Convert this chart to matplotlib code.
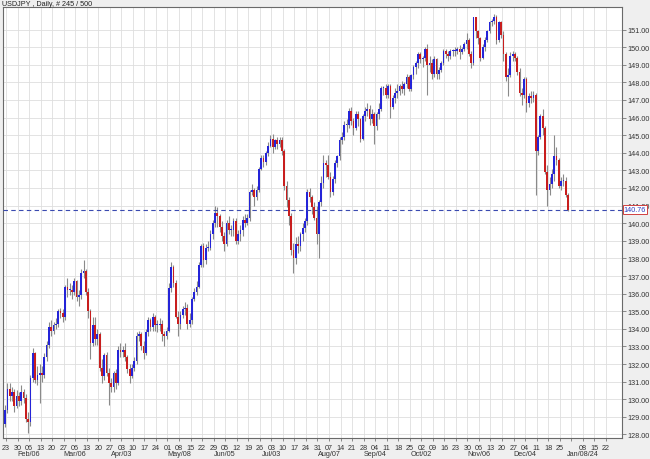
import matplotlib
matplotlib.use("Agg")
import matplotlib.pyplot as plt
import numpy as np

plt.rcParams['font.family'] = ['Liberation Sans', 'DejaVu Sans']

title = "USDJPY , Daily, # 245 / 500"
last_price = 140.76

opens = [
128.6,129.4,130.6,130.2,130.4,129.6,130.2,129.9,130.4,130.1,
128.9,128.7,131.2,132.6,131.1,131.4,131.5,131.4,132.4,133.1,
134.1,133.9,134.2,134.3,135.0,134.9,134.7,136.4,136.2,136.2,
136.1,136.7,135.8,135.9,137.2,137.3,136.1,135.0,133.2,134.2,
133.4,133.7,131.8,131.3,132.5,131.5,130.9,130.7,131.5,130.9,
132.8,132.7,132.8,132.4,131.7,131.3,131.8,132.2,133.6,133.7,
133.0,132.6,133.8,134.5,134.1,134.7,134.2,134.2,134.3,133.7,
133.6,133.9,136.3,137.5,136.6,134.7,134.3,134.8,135.1,135.2,
134.3,134.5,135.7,136.1,136.4,137.6,138.7,137.9,138.6,138.6,
139.4,140.0,140.6,140.4,139.8,139.3,138.8,140.0,139.6,139.6,
140.1,139.0,139.4,139.6,140.2,140.0,140.3,141.8,141.9,141.5,
141.9,143.1,143.7,143.5,144.0,144.4,144.8,144.3,144.7,144.5,
144.7,144.1,142.1,141.3,140.4,138.5,138.0,138.8,138.7,139.4,
139.7,140.1,141.8,141.5,140.9,140.3,139.4,141.2,142.3,143.4,
143.3,142.6,141.8,142.5,143.4,143.8,144.7,144.9,145.6,145.6,
146.4,145.8,145.4,146.2,145.9,144.8,146.1,146.4,146.5,145.9,
146.2,145.5,146.2,146.5,147.7,147.7,147.3,147.8,146.6,147.1,
147.4,147.5,147.8,147.6,147.9,148.3,147.6,148.4,148.9,149.1,
149.6,149.3,149.4,149.9,149.0,149.1,148.5,149.3,148.5,148.7,
149.1,149.8,149.6,149.5,149.8,149.8,149.8,149.9,149.7,149.9,
150.2,150.4,149.6,149.1,151.7,150.9,150.5,149.4,150.0,150.4,
150.9,151.4,151.5,151.7,150.4,151.4,150.7,149.6,148.3,148.4,
149.5,149.6,149.4,148.6,147.4,147.3,148.2,146.8,147.2,147.1,
147.3,144.1,144.9,146.1,145.4,142.9,141.9,142.2,142.8,143.8,
143.6,142.1,142.4,142.4,141.6]

highs = [
129.7,130.9,130.9,130.7,130.6,130.5,130.4,130.8,130.6,130.3,
129.3,131.4,132.9,132.7,131.9,132.0,131.9,132.6,133.3,134.4,
134.5,134.4,134.6,135.1,135.2,135.1,136.5,136.9,136.6,136.5,
136.9,136.8,136.2,137.4,137.9,137.4,136.3,135.1,134.7,134.7,
134.0,133.8,132.3,132.6,132.7,131.8,131.2,131.6,131.7,133.0,
133.2,133.0,133.2,132.5,132.0,132.0,132.4,133.8,133.9,133.8,
133.3,134.0,134.7,134.6,134.9,134.8,134.5,134.6,134.5,133.9,
134.1,136.6,137.8,137.6,136.8,135.0,135.0,135.3,135.5,135.4,
134.9,135.8,136.3,136.7,137.8,138.8,138.9,138.8,139.0,139.6,
140.2,140.95,140.9,140.5,140.1,139.5,140.2,140.4,139.9,140.3,
140.3,139.6,139.9,140.4,140.5,140.5,141.9,142.2,142.0,142.1,
143.2,143.9,143.9,144.1,144.6,145.0,145.07,144.8,144.9,144.9,
144.9,144.2,142.4,141.5,140.6,138.9,139.2,139.3,139.5,140.0,
140.3,141.95,142.0,141.6,141.2,141.0,141.3,142.7,143.9,143.6,
143.9,142.9,142.7,143.6,143.9,144.9,145.2,145.8,145.9,146.55,
146.6,146.0,146.4,146.4,146.0,146.2,146.6,146.8,146.7,146.5,
146.3,146.3,146.8,147.8,147.8,147.9,147.9,147.9,147.3,147.7,
147.9,147.9,148.1,148.0,148.5,148.4,148.5,149.0,149.2,149.7,
149.7,149.5,150.0,150.2,149.5,149.3,149.5,149.4,148.9,149.2,
149.9,149.9,149.8,149.9,149.9,150.0,150.0,150.1,150.0,150.3,
150.8,150.5,149.8,151.7,151.7,151.0,150.6,150.2,150.6,151.0,
151.5,151.6,151.9,151.8,151.5,151.5,150.9,149.7,148.8,149.7,
149.8,149.7,149.5,148.8,147.7,148.3,148.3,147.4,147.5,147.5,
147.4,145.0,146.2,146.5,145.5,143.3,142.6,143.1,145.0,144.3,
143.7,142.6,142.8,142.6,141.7]

lows = [
128.4,129.2,129.9,129.9,129.3,129.5,129.6,129.7,129.8,128.7,
128.1,128.5,131.0,130.9,130.8,129.8,131.0,131.2,132.2,132.9,
133.6,133.7,134.0,134.1,134.6,134.4,134.5,135.8,135.9,135.7,
135.9,135.6,135.3,135.7,136.9,135.9,134.6,132.3,133.0,133.1,
133.1,131.6,130.9,131.1,131.3,129.7,130.4,130.4,130.6,130.8,
132.4,132.4,132.2,131.5,130.9,131.2,131.6,132.0,133.3,132.8,
132.3,132.5,133.6,133.9,133.9,133.9,133.8,133.9,133.3,133.0,
133.4,133.8,136.1,136.4,134.6,133.6,134.0,134.6,134.8,134.0,
134.1,134.3,135.6,135.9,136.3,137.5,137.5,137.7,138.4,138.5,
139.1,139.8,139.8,139.5,139.0,138.4,138.7,139.4,139.3,139.3,
138.8,138.8,139.0,139.3,139.8,139.9,140.1,141.6,141.0,141.3,
141.8,143.0,143.2,143.3,143.8,144.3,144.0,144.2,144.2,144.3,
143.9,141.9,140.9,139.9,138.2,137.2,137.7,138.3,138.4,139.0,
139.5,139.9,141.2,140.5,140.2,138.8,138.05,141.0,142.0,142.6,
142.5,141.5,141.6,142.3,143.2,143.6,144.5,144.7,145.2,145.4,
145.6,145.0,145.3,145.5,144.6,144.7,145.8,146.1,145.6,145.7,
144.5,145.3,145.9,146.4,147.3,147.1,147.1,146.0,146.5,146.8,
147.1,147.3,147.4,147.3,147.7,147.5,147.5,148.2,148.5,148.8,
149.1,148.9,149.2,147.3,148.6,148.2,148.3,148.2,148.2,148.6,
149.0,149.4,149.2,149.3,149.5,149.5,149.6,149.3,149.6,149.8,
149.9,149.5,148.8,149.0,150.5,150.2,149.2,149.3,149.8,150.3,
150.8,151.2,151.3,150.2,150.3,150.5,149.2,148.1,147.2,148.3,
149.2,149.2,148.4,147.2,146.7,147.1,146.3,146.6,146.8,146.9,
141.6,143.9,144.8,145.0,142.8,141.0,141.6,142.0,142.4,143.3,
142.0,141.9,142.1,141.5,140.7]

closes = [
129.4,130.6,130.2,130.4,129.6,130.2,129.9,130.4,130.1,128.9,
128.7,131.2,132.6,131.1,131.4,131.5,131.4,132.4,133.1,134.1,
133.9,134.2,134.3,135.0,134.9,134.7,136.4,136.2,136.2,136.1,
136.7,135.8,135.9,137.2,137.3,136.1,135.0,133.2,134.2,133.4,
133.7,131.8,131.3,132.5,131.5,130.9,130.7,131.5,130.9,132.8,
132.7,132.8,132.4,131.7,131.3,131.8,132.2,133.6,133.7,133.0,
132.6,133.8,134.5,134.1,134.7,134.2,134.2,134.3,133.7,133.6,
133.9,136.3,137.5,136.6,134.7,134.3,134.8,135.1,135.2,134.3,
134.5,135.7,136.1,136.4,137.6,138.7,137.9,138.6,138.6,139.4,
140.0,140.6,140.4,139.8,139.3,138.8,140.0,139.6,139.6,140.1,
139.0,139.4,139.6,140.2,140.0,140.3,141.8,141.9,141.5,141.9,
143.1,143.7,143.5,144.0,144.4,144.8,144.3,144.7,144.5,144.7,
144.1,142.1,141.3,140.4,138.5,138.0,138.8,138.7,139.4,139.7,
140.1,141.8,141.5,140.9,140.3,139.4,141.2,142.3,143.4,143.3,
142.6,141.8,142.5,143.4,143.8,144.7,144.9,145.6,145.6,146.4,
145.8,145.4,146.2,145.9,144.8,146.1,146.4,146.5,145.9,146.2,
145.5,146.2,146.5,147.7,147.7,147.3,147.8,146.6,147.1,147.4,
147.5,147.8,147.6,147.9,148.3,147.6,148.4,148.9,149.1,149.6,
149.3,149.4,149.9,149.0,149.1,148.5,149.3,148.5,148.7,149.1,
149.8,149.6,149.5,149.8,149.8,149.8,149.9,149.7,149.9,150.2,
150.4,149.6,149.1,151.7,150.9,150.5,149.4,150.0,150.4,150.9,
151.4,151.5,151.7,150.4,151.4,150.7,149.6,148.3,148.4,149.5,
149.6,149.4,148.6,147.4,147.3,148.2,146.8,147.2,147.1,147.3,
144.1,144.9,146.1,145.4,142.9,141.9,142.2,142.8,143.8,143.6,
142.1,142.4,142.4,141.6,140.76]

week_labels = ["23","30","06","13","20","27","06","13","20","27","03","10","17","24",
               "01","08","15","22","29","05","12","19","26","03","10","17","24","31",
               "07","14","21","28","04","11","18","25","02","09","16","23","30","06",
               "13","20","27","04","11","18","25","","08","15","22"]
month_labels = {2: "Feb/06", 6: "Mar/06", 10: "Apr/03", 15: "May/08", 19: "Jun/05",
                23: "Jul/03", 28: "Aug/07", 32: "Sep/04", 36: "Oct/02", 41: "Nov/06",
                45: "Dec/04", 50: "Jan/08/24"}
price_ticks = list(range(128, 152))

o = np.array(opens); h = np.array(highs); l = np.array(lows); c = np.array(closes)
x = np.arange(len(c))

FS = 5.2
fig = plt.figure(figsize=(6.5, 4.6), dpi=100, facecolor='#efefef')
ax = fig.add_axes([3/650, 21/460, 619/650, 431/460])
ax.set_facecolor('white')

ax.set_xlim(-0.9, 267.4)
ax.set_ylim(127.8, 152.28)

up = c >= o
body_col = np.where(up, '#2424d8', '#c81e1e')
ax.vlines(x, l, h, color='#8a8a8a', linewidth=0.8, zorder=3)
heights = np.where(np.abs(c - o) < 0.05, 0.05, c - o)
ax.bar(x, heights, bottom=o, width=0.75, color=body_col, linewidth=0, zorder=4)

# weekly ticks and grid
tick_pos = [0.4 + 5 * k for k in range(len(week_labels))]
ax.set_xticks(tick_pos)
ax.set_xticklabels(week_labels, fontsize=FS, color='#333333')
trans = ax.get_xaxis_transform()
for k, lab in month_labels.items():
    ax.text(tick_pos[k], -0.037, lab, transform=trans, fontsize=FS, color='#333333',
            ha='center', va='center', clip_on=False)
ax.set_yticks(price_ticks)
ax.set_yticklabels([f"{p:.2f}" for p in price_ticks], fontsize=FS, color='#333333')
ax.yaxis.tick_right()
ax.tick_params(axis='y', length=3, width=0.6, color='#777777', pad=1)
ax.tick_params(axis='x', length=2.5, width=0.6, color='#777777', pad=1.5)
ax.grid(True, color='#dedede', linewidth=0.6, zorder=0)
ax.set_axisbelow(True)
for s in ax.spines.values():
    s.set_color('#6a6a6a')
    s.set_linewidth(0.8)

# last price line and label
ax.axhline(last_price, color='#3a4ab0', linewidth=0.8, linestyle=(0, (4, 3)), zorder=5)
ax.text(1.003, last_price, f"{last_price:.2f}", transform=ax.get_yaxis_transform(),
        fontsize=FS, color='#2a3ac0', va='center', ha='left', zorder=10,
        bbox=dict(boxstyle='square,pad=0.15', facecolor='white', edgecolor='#d04040', linewidth=0.7))

fig.text(2/650, 1 - 4/460, title, fontsize=FS, color='#222222', va='center', ha='left')

fig.savefig("out.png", dpi=100, facecolor=fig.get_facecolor())
